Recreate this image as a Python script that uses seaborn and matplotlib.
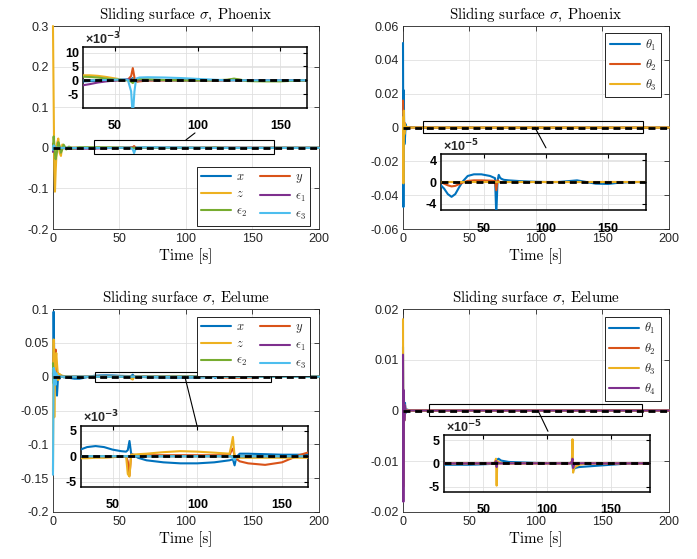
"""
Sliding surface sigma for Phoenix and Eelume: four panels, each with a
zoomed inset of the steady-state part (MATLAB-like look).
"""

import numpy as np
import pandas as pd
import seaborn as sns
import matplotlib
matplotlib.use("Agg")
import matplotlib.pyplot as plt
from matplotlib.lines import Line2D
from matplotlib.patches import Rectangle


# --------------------------------------------------------------------
# Data
# --------------------------------------------------------------------
# Phoenix, position components
T_PHX_POS = [0, 0.5, 1, 1.5, 2, 3, 4, 5, 6, 7,
             8, 10, 12, 15, 20, 25, 31, 35, 40, 45,
             50, 55, 58, 60, 61, 62, 63, 65, 70, 80,
             90, 100, 110, 118, 122, 126, 130, 140, 150, 160,
             170, 200]
PHX_X = [0.005, -0.008, 0.004, -0.002, 0.001, -0.0015, 0.001, -0.0005, 0.0003, 0.0,
         -0.0002, 0.0001, -0.0003, -0.0004, -0.0005, -0.0005, -0.0004, -0.0003, -0.0002, -0.0001,
         0.0, 0.0001, 0.0002, 0.0004, 0.0008, -0.0003, 0.0, 0.0002, 0.0002, 0.0001,
         0.0, 0.0, 0.0, 0.0, 0.0002, 0.0, 0.0, -0.0001, -0.0001, 0.0,
         0.0, 0.0]
PHX_Y = [0.01, -0.01, 0.005, -0.003, 0.002, -0.001, 0.0005, 0.0, 0.0, 0.0,
         0.0, 0.0, 0.0, 0.0, 0.0, 0.0, 0.0001, 0.0001, 0.0, 0.0,
         0.0, 0.0, 0.0002, 0.0015, 0.0044, 0.001, -0.0006, -0.0004, -0.0001, 0.0,
         0.0, 0.0, 0.0, 0.0001, 0.0004, 0.0001, 0.0, 0.0, 0.0, 0.0,
         0.0, 0.0]
PHX_Z = [0.3, 0.12, -0.05, -0.108, -0.06, 0.01, 0.023, -0.012, -0.02, 0.008,
         0.006, -0.003, 0.002, 0.0005, 0.001, 0.0015, 0.0018, 0.0018, 0.0016, 0.0012,
         0.0007, 0.0002, 0.0, 0.0, 0.0003, 0.0, 0.0, 0.0, 0.0, 0.0,
         0.0, 0.0, 0.0, 0.0, 0.0, 0.0, 0.0, 0.0, 0.0, 0.0,
         0.0, 0.0]
PHX_E1 = [-0.01, 0.005, -0.003, 0.001, 0.0, -0.001, 0.0, -0.0005, 0.0, -0.0008,
          -0.001, -0.0015, -0.0018, -0.002, -0.002, -0.0019, -0.0018, -0.0014, -0.0008, -0.0004,
          -0.0001, 0.0002, 0.0003, 0.0002, 0.0, 0.0, 0.0, 0.0, 0.0, 0.0,
          0.0, 0.0, 0.0, 0.0, 0.0, 0.0, 0.0, 0.0, 0.0, 0.0,
          0.0, 0.0]
PHX_E2 = [0.0, 0.028, 0.01, -0.015, -0.028, -0.01, 0.014, 0.005, -0.012, -0.004,
          0.008, -0.004, 0.003, -0.002, 0.0015, 0.0012, 0.0013, 0.0012, 0.001, 0.0006,
          0.0003, 0.0001, 0.0, -0.0005, -0.001, -0.0003, 0.0002, 0.0004, 0.0003, 0.0001,
          0.0, 0.0, 0.0, 0.0002, 0.0006, 0.0002, -0.0003, -0.0004, -0.0004, -0.0001,
          0.0, 0.0]
PHX_E3 = [-0.005, 0.006, -0.003, 0.002, -0.001, 0.0005, 0.0, 0.0, 0.0, 0.0,
          0.0, 0.0, 0.0, 0.0, 0.0, 0.0, 0.0, 0.0, 0.0001, 0.0001,
          0.0002, 0.0003, 0.0002, -0.004, -0.013, -0.004, 0.0006, 0.001, 0.0011, 0.001,
          0.0008, 0.0005, 0.0002, 0.0, 0.0, 0.0, 0.0, 0.0, 0.0, 0.0,
          0.0, 0.0]

# Phoenix, joints
T_PHX_JNT = [0, 0.3, 0.6, 1, 1.5, 2, 3, 5, 8, 12,
             15, 18, 21, 24, 27, 30, 33, 37, 42, 48,
             55, 59, 60, 61, 62, 63, 64, 66, 70, 80,
             90, 100, 110, 120, 125, 130, 140, 150, 160, 170,
             180, 200]
PHX_TH1 = [0.05, -0.047, 0.022, -0.01, -0.006, 0.002, -0.001, 0.0002, 0.00005, 0.0,
           -0.5e-5, -1.2e-5, -2.2e-5, -2.7e-5, -2.2e-5, -1.0e-5, 0.1e-5, 1.1e-5, 1.4e-5, 1.4e-5,
           1.1e-5, 0.7e-5, -6e-5, 0.2e-5, 1.3e-5, 0.8e-5, 0.6e-5, 0.4e-5, 0.3e-5, 0.15e-5,
           0.05e-5, 0.0, 0.0, 0.2e-5, 0.3e-5, 0.1e-5, -0.3e-5, -0.35e-5, -0.1e-5, 0.0,
           0.0, 0.0]
PHX_TH2 = [0.016, 0.005, -0.006, 0.003, -0.001, 0.0005, 0.0002, 0.0, 0.0, 0.0,
           0.0, -0.3e-5, -0.6e-5, -0.8e-5, -0.7e-5, -0.4e-5, -0.1e-5, 0.2e-5, 0.3e-5, 0.3e-5,
           0.25e-5, 0.2e-5, -1.5e-5, 0.3e-5, 0.1e-5, 0.0, 0.0, 0.0, 0.0, 0.0,
           0.0, 0.0, 0.0, 0.0, 0.0, 0.0, 0.0, 0.0, 0.0, 0.0,
           0.0, 0.0]
PHX_TH3 = [0.006, -0.033, 0.01, -0.004, 0.002, -0.0005, 0.0002, 0.0, 0.0, 0.0,
           0.0, 0.0, 0.0, 0.0, 0.0, 0.0, 0.0, 0.0, 0.0, 0.0,
           0.0, 0.0, 0.0, 0.0, 0.0, 0.0, 0.0, 0.0, 0.0, 0.0,
           0.0, 0.0, 0.0, 0.0, 0.0, 0.0, 0.0, 0.0, 0.0, 0.0,
           0.0, 0.0]

# Eelume, position components
T_EEL_POS = [0, 0.5, 1, 1.5, 2, 2.5, 3, 4, 5, 6,
             8, 10, 13, 16, 20, 25, 31, 35, 40, 45,
             50, 55, 58, 59, 60, 61, 62, 65, 70, 80,
             90, 100, 110, 119, 120, 121, 122, 123, 125, 130,
             140, 150, 155, 160, 165, 170, 180, 200]
EEL_X = [0.0, 0.096, 0.02, -0.01, 0.01, -0.02, -0.028, 0.005, -0.003, 0.002,
         -0.001, -0.001, -0.002, -0.003, -0.003, -0.001, 0.0013, 0.0018, 0.002, 0.0018,
         0.0013, 0.001, 0.0009, 0.0012, 0.003, 0.0005, 0.0003, -0.0003, -0.0008, -0.0012,
         -0.0014, -0.0014, -0.0012, -0.0008, -0.0007, -0.0006, -0.0018, -0.0002, 0.0005, 0.0005,
         0.0004, 0.0003, 0.0003, 0.0003, 0.0003, 0.0002, 0.0001, 0.0]
EEL_Y = [0.01, 0.03, 0.04, 0.02, 0.04, 0.01, -0.005, 0.003, -0.001, 0.0,
         0.0, 0.0, 0.0, 0.0, 0.0, 0.0, 0.0, 0.0, 0.0, 0.0,
         0.0, 0.0, 0.0, -0.001, -0.0038, 0.0003, 0.0003, 0.0002, 0.0002, 0.0002,
         0.0002, 0.0002, 0.0002, 0.0002, 0.001, 0.0015, 0.0001, -0.0005, -0.001, -0.0014,
         -0.0017, -0.0012, -0.0005, 0.0002, 0.0007, 0.0006, 0.0003, 0.0]
EEL_Z = [-0.14, 0.055, -0.06, 0.01, 0.025, 0.035, 0.02, -0.005, 0.004, 0.002,
         0.001, 0.0005, -0.0002, -0.0003, -0.0003, -0.0004, -0.0004, -0.0004, -0.0003, -0.0003,
         -0.0002, -0.0001, 0.0, -0.0035, -0.004, 0.0003, 0.0003, 0.0004, 0.0005, 0.0008,
         0.001, 0.0009, 0.0007, 0.0005, 0.002, 0.0038, 0.0, -0.0003, -0.0003, -0.0003,
         -0.0003, -0.0003, -0.0003, -0.0003, -0.0003, -0.0002, -0.0001, 0.0]
EEL_E1 = [0.005, -0.005, 0.003, -0.001, 0.0, 0.0, 0.0, 0.0, 0.0, 0.0,
          0.0, 0.0, 0.0, 0.0, 0.0, 0.0, 0.0, 0.0, 0.0, 0.0,
          0.0, 0.0, 0.0, 0.0, 0.0, 0.0, 0.0, 0.0, 0.0, 0.0,
          0.0, 0.0, 0.0, 0.0, 0.0, 0.0, 0.0, 0.0, 0.0, 0.0,
          0.0, 0.0, 0.0, 0.0, 0.0, 0.0, 0.0, 0.0]
EEL_E2 = [0.02, -0.01, 0.005, -0.002, 0.001, 0.0, 0.0, 0.0, 0.0, 0.0,
          0.0, 0.0, 0.0, 0.0, 0.0, 0.0, 0.0, 0.0, 0.0, 0.0,
          0.0, 0.0, 0.0, 0.0, 0.0, 0.0, 0.0, 0.0, 0.0, 0.0,
          0.0, 0.0, 0.0, 0.0, 0.0, 0.0, 0.0, 0.0, 0.0, 0.0,
          0.0, 0.0, 0.0, 0.0, 0.0, 0.0, 0.0, 0.0]
EEL_E3 = [-0.145, 0.013, -0.01, 0.008, -0.012, 0.005, -0.002, 0.001, 0.0, 0.0,
          0.0, 0.0, 0.0, 0.0, 0.0, 0.0, 0.0, 0.0, 0.0, 0.0,
          0.0, 0.0, 0.0, 0.0, 0.0, 0.0, 0.0, 0.0, 0.0, 0.0,
          0.0, 0.0, 0.0, 0.0, 0.0, -0.0003, -0.0008, 0.0, 0.0, 0.0,
          0.0, 0.0, 0.0, 0.0, 0.0, 0.0, 0.0, 0.0]

# Eelume, joints
T_EEL_JNT = [0, 0.3, 0.6, 1, 1.5, 2, 3, 5, 10, 20,
             30, 40, 50, 58, 59, 60, 60.5, 61, 62, 64,
             70, 80, 90, 100, 110, 118, 119.5, 120, 120.5, 121,
             122, 125, 130, 140, 150, 160, 170, 180, 200]
EEL_TH1 = [0.0125, -0.01, 0.002, -0.001, 0.0015, -0.0005, 0.0002, 0.0, -0.2e-5, -0.3e-5,
           -0.3e-5, -0.3e-5, -0.2e-5, -0.1e-5, 0.0, 0.5e-5, -0.5e-5, 0.8e-5, 1.0e-5, 0.6e-5,
           0.3e-5, 0.2e-5, 0.1e-5, 0.05e-5, 0.0, 0.0, 0.0, -0.5e-5, -1.5e-5, -1.3e-5,
           -1.0e-5, -0.8e-5, -0.7e-5, -0.5e-5, -0.3e-5, -0.1e-5, 0.0, 0.0, 0.0]
EEL_TH2 = [0.002, -0.002, 0.001, -0.0005, 0.0, 0.0, 0.0, 0.0, 0.0, 0.0,
           0.0, 0.0, 0.0, 0.0, 0.0, 0.0, 0.0, 0.0, 0.0, 0.0,
           0.0, 0.0, 0.0, 0.0, 0.0, 0.0, 0.0, 0.0, 0.0, 0.0,
           0.0, 0.0, 0.0, 0.0, 0.0, 0.0, 0.0, 0.0, 0.0]
EEL_TH3 = [0.018, -0.015, 0.003, -0.002, 0.001, -0.0003, 0.0001, 0.0, 0.0, 0.0,
           0.0, 0.0, 0.0, 0.0, 0.2e-5, 1.0e-5, -4.8e-5, 0.5e-5, 0.3e-5, 0.1e-5,
           0.0, 0.0, 0.0, 0.0, 0.0, 0.0, 0.5e-5, 5.2e-5, -2.0e-5, -1.2e-5,
           -0.8e-5, -0.3e-5, -0.1e-5, 0.0, 0.0, 0.0, 0.0, 0.0, 0.0]
EEL_TH4 = [0.011, -0.018, 0.004, -0.002, 0.001, -0.0003, 0.0, 0.0, 0.0, 0.0,
           0.0, 0.0, 0.0, 0.0, 0.1e-5, 0.5e-5, -0.8e-5, 0.2e-5, 0.0, 0.0,
           0.0, 0.0, 0.0, 0.0, 0.0, 0.0, 0.3e-5, 1.0e-5, -1.0e-5, -0.5e-5,
           -0.2e-5, 0.0, 0.0, 0.0, 0.0, 0.0, 0.0, 0.0, 0.0]

POS_LABELS = ["$x$", "$y$", "$z$", r"$\epsilon_1$", r"$\epsilon_2$", r"$\epsilon_3$"]
PHX_JNT_LABELS = [r"$\theta_1$", r"$\theta_2$", r"$\theta_3$"]
EEL_JNT_LABELS = [r"$\theta_1$", r"$\theta_2$", r"$\theta_3$", r"$\theta_4$"]

# MATLAB default line colours
COLORS = ["#0072BD", "#D95319", "#EDB120", "#7E2F8E", "#77AC30", "#4DBEEE"]

X_TICKS = [0, 50, 100, 150, 200]
INSET_X_TICKS = [50, 100, 150]
PHX_POS_YTICKS = [-0.2, -0.1, 0, 0.1, 0.2, 0.3]
PHX_JNT_YTICKS = [-0.06, -0.04, -0.02, 0, 0.02, 0.04, 0.06]
EEL_POS_YTICKS = [-0.2, -0.15, -0.1, -0.05, 0, 0.05, 0.1]
EEL_JNT_YTICKS = [-0.02, -0.01, 0, 0.01, 0.02]
PHX_POS_INSET_YTICKS = [-5e-3, 0, 5e-3, 10e-3]
PHX_JNT_INSET_YTICKS = [-4e-5, 0, 4e-5]
EEL_POS_INSET_YTICKS = [-5e-3, 0, 5e-3]
EEL_JNT_INSET_YTICKS = [-5e-5, 0, 5e-5]

DARK = "#262626"
GRID = "#e0e0e0"
ZERO_DASH = (0, (2.5, 1.7))


def long_frame(t, series, names):
    return pd.DataFrame({
        "t": np.tile(np.asarray(t, dtype=float), len(series)),
        "sigma": np.concatenate([np.asarray(s, dtype=float) for s in series]),
        "comp": np.repeat(names, len(t)),
    })


def draw_lines(ax, df, names, clip=True):
    # main panels: data never leaves the limits, so draw over the spines
    # like MATLAB does (the t=0 spikes sit right on the left axis)
    sns.lineplot(data=df, x="t", y="sigma", hue="comp", hue_order=names,
                 palette=COLORS[:len(names)], estimator=None, sort=False,
                 linewidth=1.5, legend=False, ax=ax, clip_on=clip, zorder=3)
    ax.axhline(0, color="k", lw=2.0, ls=ZERO_DASH, zorder=5)
    ax.set_xlabel("")
    ax.set_ylabel("")


def plot_panel(fig, rect, inset_rect, t, series, names, title, ylim, yticks,
               zoom_box, link, inset_xlim, inset_ylim, inset_yticks, exponent,
               legend_order, ncol, legend_anchor):
    df = long_frame(t, series, names)

    # ---- main axes ----
    ax = fig.add_axes(rect)
    draw_lines(ax, df, names, clip=False)
    ax.set_xlim(0, 200)
    ax.set_ylim(*ylim)
    ax.set_xticks(X_TICKS)
    ax.set_yticks(yticks)
    ax.set_yticklabels([f"{v:g}" for v in yticks])
    ax.grid(True, color=GRID, lw=0.6)
    ax.set_axisbelow(True)
    ax.tick_params(direction="in", length=3.5, width=0.6, top=True, right=True,
                   labelsize=9, colors=DARK, pad=3)
    for sp in ax.spines.values():
        sp.set_color(DARK)
        sp.set_linewidth(0.6)
    ax.set_title(title, fontfamily="cmr10", fontsize=10.8, pad=5, color="k")
    ax.set_xlabel("Time [s]", fontfamily="cmr10", fontsize=10.8, labelpad=2,
                  color="k")

    # zoom rectangle and its connector
    (bx, by, bw, bh) = zoom_box
    ax.add_patch(Rectangle((bx, by), bw, bh, fill=False, ec="k", lw=0.8,
                           zorder=6))
    ax.annotate("", xy=link[1], xytext=link[0], xycoords="data",
                arrowprops=dict(arrowstyle="-", color="k", lw=0.8,
                                shrinkA=0, shrinkB=0),
                annotation_clip=False)

    # legend (MATLAB fills rows first)
    handles = [Line2D([], [], color=COLORS[i], lw=1.5) for i in legend_order]
    labels = [names[i] for i in legend_order]
    leg = ax.legend(handles, labels, ncol=ncol, loc="upper right",
                    bbox_to_anchor=legend_anchor, borderaxespad=0,
                    fancybox=False, edgecolor="k", framealpha=1, fontsize=9,
                    handlelength=2.4, handletextpad=0.4, labelspacing=0.4,
                    borderpad=0.35, columnspacing=1.0)
    leg.get_frame().set_linewidth(0.6)
    leg.set_zorder(10)

    # ---- inset ----
    ins = fig.add_axes(inset_rect)
    ins.set_facecolor("none")
    draw_lines(ins, df, names, clip=True)
    ins.set_xlim(*inset_xlim)
    ins.set_ylim(*inset_ylim)
    ins.set_xticks(INSET_X_TICKS)
    ins.set_xticklabels([str(v) for v in INSET_X_TICKS], fontweight="bold")
    ins.set_yticks(inset_yticks)
    ins.set_yticklabels([f"{int(round(v * 10 ** exponent))}" for v in inset_yticks],
                        fontweight="bold")
    ins.grid(True, color=GRID, lw=0.6)
    ins.tick_params(direction="in", length=3, width=0.8, top=True, right=True,
                    labelsize=9, colors="k", pad=3)
    ins.tick_params(axis="x", pad=9)
    for sp in ins.spines.values():
        sp.set_color("k")
        sp.set_linewidth(1.1)
    ins.text(0.01, 1.0, "×10$^{\\mathbf{-%d}}$" % exponent,
             transform=ins.transAxes, ha="left", va="bottom", fontsize=9,
             fontweight="bold", math_fontfamily="dejavusans")


def main():
    sns.set_style("white")
    plt.rcParams["font.family"] = ["Liberation Sans", "DejaVu Sans"]
    plt.rcParams["axes.unicode_minus"] = False
    plt.rcParams["mathtext.fontset"] = "cm"

    fig = plt.figure(figsize=(6.97, 5.59), dpi=100)

    plot_panel(fig, [0.0760, 0.5903, 0.3816, 0.3631],
               [0.1191, 0.8068, 0.3214, 0.1091],
               T_PHX_POS, [PHX_X, PHX_Y, PHX_Z, PHX_E1, PHX_E2, PHX_E3],
               POS_LABELS, r"Sliding surface $\sigma$, Phoenix",
               (-0.2, 0.3), PHX_POS_YTICKS,
               (30.8, -0.0158, 135.2, 0.0353),
               ((100, 0.0195), (106.8, 0.0367)),
               (31, 166), (-10e-3, 12e-3), PHX_POS_INSET_YTICKS, 3,
               [0, 2, 4, 1, 3, 5], 2, (0.966, 0.305))

    plot_panel(fig, [0.5782, 0.5903, 0.3816, 0.3631],
               [0.6327, 0.6243, 0.2941, 0.1002],
               T_PHX_JNT, [PHX_TH1, PHX_TH2, PHX_TH3],
               PHX_JNT_LABELS, r"Sliding surface $\sigma$, Phoenix",
               (-0.06, 0.06), PHX_JNT_YTICKS,
               (15, -0.0033, 165.5, 0.0069),
               ((99.2, 0.0), (107.5, -0.012)),
               (15.5, 180.5), (-5.1e-5, 5.1e-5), PHX_JNT_INSET_YTICKS, 5,
               [0, 1, 2], 1, (0.969, 0.965))

    plot_panel(fig, [0.0760, 0.0841, 0.3816, 0.3631],
               [0.1162, 0.1293, 0.3257, 0.1091],
               T_EEL_POS, [EEL_X, EEL_Y, EEL_Z, EEL_E1, EEL_E2, EEL_E3],
               POS_LABELS, r"Sliding surface $\sigma$, Eelume",
               (-0.2, 0.1), EEL_POS_YTICKS,
               (31.6, -0.0074, 132.1, 0.0148),
               ((99.2, 0.0), (108.3, -0.0724)),
               (31.4, 165.3), (-6e-3, 6e-3), EEL_POS_INSET_YTICKS, 3,
               [0, 2, 4, 1, 3, 5], 2, (0.966, 0.962))

    plot_panel(fig, [0.5782, 0.0841, 0.3816, 0.3631],
               [0.6370, 0.1204, 0.2956, 0.1014],
               T_EEL_JNT, [EEL_TH1, EEL_TH2, EEL_TH3, EEL_TH4],
               EEL_JNT_LABELS, r"Sliding surface $\sigma$, Eelume",
               (-0.02, 0.02), EEL_JNT_YTICKS,
               (19.5, -0.0011, 160.5, 0.0024),
               ((101.5, 0.0), (109, -0.0041)),
               (19.2, 180.8), (-6.1e-5, 6.1e-5), EEL_JNT_INSET_YTICKS, 5,
               [0, 1, 2, 3], 1, (0.969, 0.961))

    fig.savefig("out.png", dpi=100)
    plt.close(fig)


if __name__ == "__main__":
    main()
